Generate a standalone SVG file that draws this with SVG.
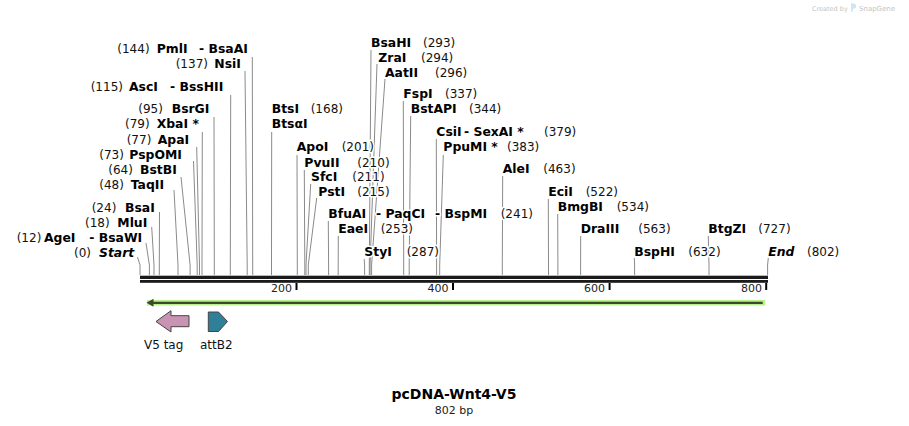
<svg xmlns="http://www.w3.org/2000/svg" width="909" height="426" viewBox="0 0 909 426">
<style>
.nm{font-family:"DejaVu Sans","Liberation Sans",sans-serif;font-weight:bold;font-size:12.4px;fill:#000;stroke:#fff;stroke-width:3;paint-order:stroke;stroke-linejoin:round}
.it{font-style:italic}
.num{font-family:"DejaVu Sans","Liberation Sans",sans-serif;font-size:12px;fill:#111;stroke:#fff;stroke-width:3;paint-order:stroke;stroke-linejoin:round}
.cut{fill:none;stroke:#8a8a8a;stroke-width:1}
.tick{stroke:#000;stroke-width:2}
.tl{font-family:"DejaVu Sans","Liberation Sans",sans-serif;font-size:11px;fill:#222;text-anchor:end}
.flab{font-family:"DejaVu Sans","Liberation Sans",sans-serif;font-size:12px;fill:#111}
.feat{stroke:#444;stroke-width:1}
</style>
<rect width="909" height="426" fill="#fff"/>
<g id="watermark">
<text x="812" y="10.5" style="font-family:'DejaVu Sans',sans-serif;font-size:6.5px;fill:#c4c4c4">Created by</text>
<path d="M851,3.5 h2.5 a2.6,2.6 0 0 1 0,5.2 h-0.8 v3 h-1.7 z" fill="#cfe6f2"/>
<text x="859" y="11" style="font-family:'DejaVu Sans',sans-serif;font-size:7px;fill:#c4c4c4">SnapGene</text>
</g>
<g id="connectors">
<polyline class="cut" points="252.3,57 252.7,265 252.7,275"/>
<polyline class="cut" points="245,71 247.2,265 247.2,275"/>
<polyline class="cut" points="230.7,95 230.3,265 230.3,275"/>
<polyline class="cut" points="214,117 214.3,265 214.3,275"/>
<polyline class="cut" points="202.3,132 202,265 202,275"/>
<polyline class="cut" points="196.7,147 199.5,265 199.5,275"/>
<polyline class="cut" points="193.5,161 197.2,265 197.2,275"/>
<polyline class="cut" points="181,177 190.1,265 190.1,275"/>
<polyline class="cut" points="174,190 178,265 178,275"/>
<polyline class="cut" points="159.5,212 159.3,265 159.3,275"/>
<polyline class="cut" points="151.7,227 154,265 154,275"/>
<polyline class="cut" points="146,243 149.4,265 149.4,275"/>
<polyline class="cut" points="137.5,257 140,265 140,275"/>
<polyline class="cut" points="271.7,132 271.5,265 271.5,275"/>
<polyline class="cut" points="297,155 297.3,265 297.3,275"/>
<polyline class="cut" points="304.3,170 304.8,265 304.8,275"/>
<polyline class="cut" points="310.7,184 306,265 306,275"/>
<polyline class="cut" points="316.7,198 308.3,265 308.3,275"/>
<polyline class="cut" points="328.3,221 328.6,265 328.6,275"/>
<polyline class="cut" points="338.3,236 338.2,265 338.2,275"/>
<polyline class="cut" points="364.2,259 364.6,265 364.6,275"/>
<polyline class="cut" points="371,50 369.3,265 369.3,275"/>
<polyline class="cut" points="377,64 370.1,265 370.1,275"/>
<polyline class="cut" points="385,79 371.6,265 371.6,275"/>
<polyline class="cut" points="403.3,101 403.7,265 403.7,275"/>
<polyline class="cut" points="410.7,116 409.2,265 409.2,275"/>
<polyline class="cut" points="436.3,139 436.6,265 436.6,275"/>
<polyline class="cut" points="443.3,155 439.7,265 439.7,275"/>
<polyline class="cut" points="502.7,176 502.3,265 502.3,275"/>
<polyline class="cut" points="548.3,199 548.5,265 548.5,275"/>
<polyline class="cut" points="557.7,214 557.9,265 557.9,275"/>
<polyline class="cut" points="580.7,236 580.6,265 580.6,275"/>
<polyline class="cut" points="634.3,258 634.6,265 634.6,275"/>
<polyline class="cut" points="708.3,236 709,265 709,275"/>
<polyline class="cut" points="768.3,258 767.6,265 767.6,275"/>
</g>
<g id="sequence">
<rect x="140" y="275.7" width="628" height="3.3" fill="#1a1a1a"/>
<rect x="140" y="280" width="628" height="2.8" fill="#1a1a1a"/>
<line class="tick" x1="296.5" y1="283" x2="296.5" y2="290"/>
<line class="tick" x1="453" y1="283" x2="453" y2="290"/>
<line class="tick" x1="609.6" y1="283" x2="609.6" y2="290"/>
<line class="tick" x1="766.2" y1="283" x2="766.2" y2="290"/>
<text class="tl" x="292" y="292">200</text>
<text class="tl" x="448.5" y="292">400</text>
<text class="tl" x="605" y="292">600</text>
<text class="tl" x="762" y="292">800</text>
</g>
<g id="labels-left">
<text x="117.3" y="52.5"><tspan class="num">(144)</tspan><tspan class="nm" x="156.7">PmlI</tspan><tspan class="nm" x="199">- BsaAI</tspan></text>
<text x="175.7" y="67.5"><tspan class="num">(137)</tspan><tspan class="nm" x="214.3">NsiI</tspan></text>
<text x="90.7" y="91"><tspan class="num">(115)</tspan><tspan class="nm" x="129">AscI</tspan><tspan class="nm" x="170">- BssHII</tspan></text>
<text x="138.3" y="113"><tspan class="num">(95)</tspan><tspan class="nm" x="171.7">BsrGI</tspan></text>
<text x="125" y="128"><tspan class="num">(79)</tspan><tspan class="nm" x="156.7">XbaI *</tspan></text>
<text x="126.7" y="143.5"><tspan class="num">(77)</tspan><tspan class="nm" x="157.7">ApaI</tspan></text>
<text x="99.3" y="158.5"><tspan class="num">(73)</tspan><tspan class="nm" x="129.3">PspOMI</tspan></text>
<text x="108.3" y="173.5"><tspan class="num">(64)</tspan><tspan class="nm" x="140">BstBI</tspan></text>
<text x="99.3" y="188.5"><tspan class="num">(48)</tspan><tspan class="nm" x="130.7">TaqII</tspan></text>
<text x="91.7" y="211.5"><tspan class="num">(24)</tspan><tspan class="nm" x="125">BsaI</tspan></text>
<text x="85" y="226.5"><tspan class="num">(18)</tspan><tspan class="nm" x="117.3">MluI</tspan></text>
<text x="16.7" y="241.5"><tspan class="num">(12)</tspan><tspan class="nm" x="44">AgeI</tspan><tspan class="nm" x="89.3">- BsaWI</tspan></text>
<text x="74" y="256.5"><tspan class="num">(0)</tspan><tspan class="nm it" x="99">Start</tspan></text>
</g>
<g id="labels-right">
<text x="371" y="46.5"><tspan class="nm">BsaHI</tspan><tspan class="num" x="423">(293)</tspan></text>
<text x="378.3" y="61.5"><tspan class="nm">ZraI</tspan><tspan class="num" x="421">(294)</tspan></text>
<text x="385" y="76.5"><tspan class="nm">AatII</tspan><tspan class="num" x="435">(296)</tspan></text>
<text x="403.3" y="98"><tspan class="nm">FspI</tspan><tspan class="num" x="445">(337)</tspan></text>
<text x="410.7" y="113"><tspan class="nm">BstAPI</tspan><tspan class="num" x="469">(344)</tspan></text>
<text x="271.7" y="113"><tspan class="nm">BtsI</tspan><tspan class="num" x="310.7">(168)</tspan></text>
<text x="271.7" y="128"><tspan class="nm">BtsαI</tspan></text>
<text x="436.3" y="136"><tspan class="nm">CsiI</tspan><tspan class="nm" x="464">- SexAI *</tspan><tspan class="num" x="544">(379)</tspan></text>
<text x="443.3" y="151"><tspan class="nm">PpuMI *</tspan><tspan class="num" x="507">(383)</tspan></text>
<text x="296.7" y="151"><tspan class="nm">ApoI</tspan><tspan class="num" x="341.7">(201)</tspan></text>
<text x="304.3" y="166.5"><tspan class="nm">PvuII</tspan><tspan class="num" x="357.3">(210)</tspan></text>
<text x="311" y="181"><tspan class="nm">SfcI</tspan><tspan class="num" x="352.3">(211)</tspan></text>
<text x="318.3" y="196"><tspan class="nm">PstI</tspan><tspan class="num" x="357.3">(215)</tspan></text>
<text x="328.3" y="218"><tspan class="nm">BfuAI</tspan><tspan class="nm" x="376">- PaqCI</tspan><tspan class="nm" x="435">- BspMI</tspan><tspan class="num" x="500.7">(241)</tspan></text>
<text x="338.3" y="233"><tspan class="nm">EaeI</tspan><tspan class="num" x="380.7">(253)</tspan></text>
<text x="364.3" y="256"><tspan class="nm">StyI</tspan><tspan class="num" x="406.7">(287)</tspan></text>
<text x="502.7" y="173"><tspan class="nm">AleI</tspan><tspan class="num" x="543.3">(463)</tspan></text>
<text x="548.3" y="196"><tspan class="nm">EciI</tspan><tspan class="num" x="585.7">(522)</tspan></text>
<text x="557.7" y="211"><tspan class="nm">BmgBI</tspan><tspan class="num" x="616.7">(534)</tspan></text>
<text x="580.7" y="233"><tspan class="nm">DraIII</tspan><tspan class="num" x="638.3">(563)</tspan></text>
<text x="634.3" y="256"><tspan class="nm">BspHI</tspan><tspan class="num" x="688.3">(632)</tspan></text>
<text x="708.3" y="233"><tspan class="nm">BtgZI</tspan><tspan class="num" x="758.3">(727)</tspan></text>
<text x="768.3" y="256"><tspan class="nm it">End</tspan><tspan class="num" x="807">(802)</tspan></text>
</g>
<g id="feature-full">
<rect x="147" y="300" width="618" height="5.5" fill="#b8f08c"/>
<line x1="152" y1="302.8" x2="762.7" y2="302.8" stroke="#3b4a2a" stroke-width="2.3"/>
<polygon points="146.5,302.8 153.5,298.8 153.5,306.8" fill="#3b4a2a"/>
</g>
<g id="feature-v5tag">
<polygon class="feat" points="156,321.5 171,310.7 171,315.7 189,315.7 189,326.7 171,326.7 171,332" fill="#c994b3"/>
<text class="flab" x="144" y="349">V5 tag</text>
</g>
<g id="feature-attB2">
<polygon class="feat" points="208.3,312 218.5,312 227.5,321.5 218.5,331.5 208.3,331.5" fill="#2e7f97"/>
<text class="flab" x="200" y="349">attB2</text>
</g>
<g id="title">
<text x="454" y="399" text-anchor="middle" style="font-family:'DejaVu Sans',sans-serif;font-weight:bold;font-size:14px;fill:#000">pcDNA-Wnt4-V5</text>
<text x="454" y="414" text-anchor="middle" style="font-family:'DejaVu Sans',sans-serif;font-size:11px;fill:#222">802 bp</text>
</g>
</svg>
